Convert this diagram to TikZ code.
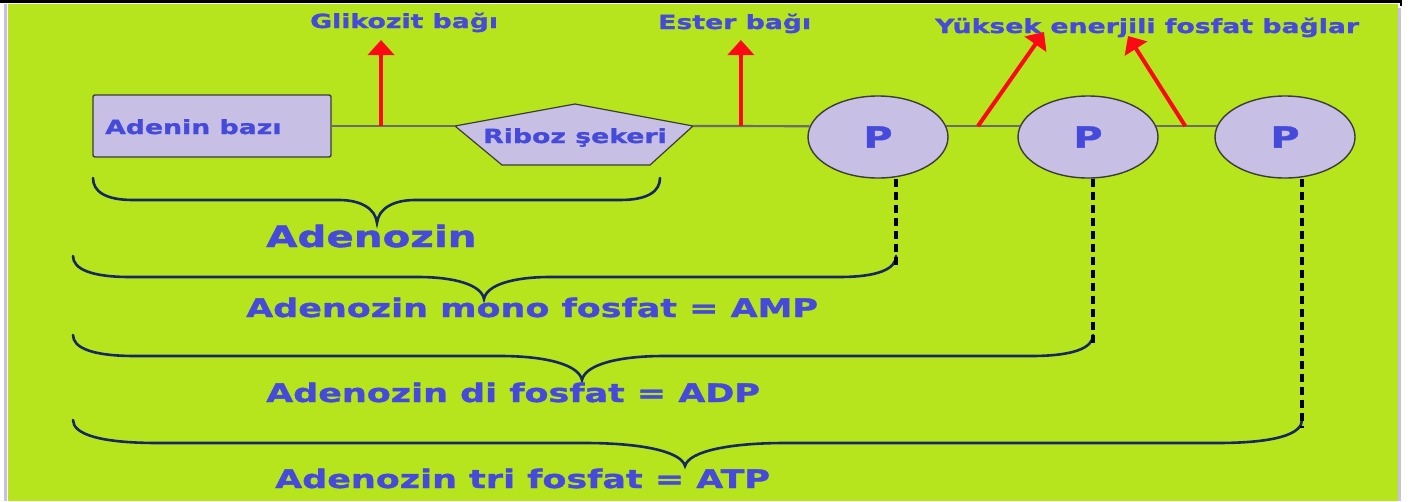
\documentclass[tikz,border=0pt]{standalone}
\usepackage{fontspec}
\newfontfamily\lbl{DejaVu Sans Bold}[FakeStretch=1.37, FakeBold=1.4]
\usetikzlibrary{shapes.geometric,arrows.meta,calc}

\definecolor{bg}{RGB}{182,229,30}
\definecolor{lav}{RGB}{199,192,228}
\definecolor{txt}{RGB}{70,74,218}
\definecolor{navy}{RGB}{22,40,98}
\definecolor{linkgray}{RGB}{108,108,108}
\definecolor{edge}{RGB}{60,60,60}
\definecolor{arrowred}{RGB}{250,10,20}

% curly brace: x0, x1, xtip, yend, yline, ytip, hook, half-width of tip
\newcommand\curlybrace[8]{%
  \draw[brc] (#1,#4) .. controls ({#1},{#4+0.6*(#5-#4)}) and ({#1+0.3*#7},#5) .. ({#1+#7},#5)
    -- ({#3-#8},#5) .. controls ({#3-0.45*#8},#5) and ({#3-0.04*#8},{#5+0.35*(#6-#5)}) .. (#3,#6)
    .. controls ({#3+0.04*#8},{#5+0.35*(#6-#5)}) and ({#3+0.45*#8},#5) .. ({#3+#8},#5)
    -- ({#2-#7},#5) .. controls ({#2-0.3*#7},#5) and ({#2},{#4+0.6*(#5-#4)}) .. (#2,#4);}

\tikzset{
  lab/.style={font=\lbl\fontsize{19.5}{22}\selectfont, text=txt, inner sep=0pt},
  biglab/.style={font=\lbl\fontsize{25.5}{30}\selectfont, text=txt, inner sep=0pt},
  hugelab/.style={font=\lbl\fontsize{29.5}{34}\selectfont, text=txt, inner sep=0pt},
  part/.style={fill=lav, draw=edge, line width=1.4pt},
  phos/.style={part, ellipse, minimum width=140pt, minimum height=82pt, inner sep=0pt,
    font=\lbl\fontsize{29}{34}\selectfont, text=txt},
  link/.style={draw=linkgray, line width=2.2pt},
  bond/.style={draw=arrowred, line width=4pt, -{Triangle[length=15pt,width=26pt]}},
  brc/.style={draw=navy, line width=2.6pt, line cap=round},
  drop/.style={draw=black, line width=3.4pt, dash pattern=on 8pt off 5pt}
}

\begin{document}
\begin{tikzpicture}[x=1pt,y=-1pt]
\useasboundingbox (0,0) rectangle (1413,501);

% page frame
\fill[bg] (8,4) rectangle (1398,501);
\draw[lav, line width=2.5pt] (5.5,4) -- (5.5,501);
\draw[lav, line width=3pt] (1399.5,8) -- (1399.5,501);
\draw[black, line width=2.5pt] (0,1.5) -- (1401,1.5) -- (1401,6);

% molecule parts
\node[part, rectangle, rounded corners=2pt, minimum width=238pt, minimum height=62pt, inner sep=0pt]
  (ab) at (212,126) {};
\node[lab, anchor=base west] (abt) at (105,134) {Adenin bazı};

\coordinate (rL) at (455,126);
\coordinate (rT) at (575,104);
\coordinate (rR) at (693,126);
\coordinate (rBR) at (650,165);
\coordinate (rBL) at (502,165);
\draw[fill=lav, draw=edge, line width=1.2pt] (rL) -- (rT) -- (rR) -- (rBR) -- (rBL) -- cycle;
\node[lab, anchor=base] (rib) at (575,143) {Riboz şekeri};

\node[phos] (p1) at (878,137) {P};
\node[phos] (p2) at (1088,137) {P};
\node[phos] (p3) at (1285,137) {P};

% backbone
\draw[link] (ab.east) -- (rL);
\draw[link] (rR) -- (p1.171);
\draw[link] (p1.9) -- (p2.171);
\draw[link] (p2.9) -- (p3.171);

% bond labels and arrows
\node[lab, anchor=base west] (glk) at (310,28) {Glikozit bağı};
\node[lab, anchor=base west] (est) at (658,29) {Ester bağı};
\node[lab, anchor=base west] (yuk) at (935,33) {Yüksek enerjili fosfat bağlar};

\coordinate (g0) at ($(ab.east)!0.4!(rL)$);
\coordinate (g1) at (g0 |- 0,40);
\coordinate (e0) at ($(rR)!0.41!(p1.171)$);
\coordinate (e1) at (e0 |- 0,40);
\coordinate (h0) at ($(p1.9)!0.43!(p2.171)$);
\coordinate (h1) at (1044,32);
\coordinate (k0) at ($(p2.9)!0.48!(p3.171)$);
\coordinate (k1) at (1128,36);
\draw[bond] (g0) -- (g1);
\draw[bond] (e0) -- (e1);
\draw[bond] (h0) -- (h1);
\draw[bond] (k0) -- (k1);

% braces
\coordinate (b2r) at (896,256);
\coordinate (b3r) at (1093,336);
\coordinate (b4r) at (1302,419);
\curlybrace{93}{660}{377}{178}{200}{223}{40}{38}
\curlybrace{73}{896}{484}{256}{277}{299}{57}{66}
\curlybrace{73}{1093}{582}{335}{356}{380}{62}{82}
\curlybrace{73}{1302}{685}{420}{443}{466}{85}{100}

\draw[drop] (p1.south -| b2r) -- ($(b2r)+(0,11)$);
\draw[drop] (p2.south -| b3r) -- ($(b3r)+(0,10)$);
\draw[drop] (p3.south -| b4r) -- ($(b4r)+(0,9)$);

% group names
\node[hugelab, anchor=base west] (ado) at (266,247) {Adenozin};
\node[biglab, anchor=base west] (amp) at (246,317) {Adenozin mono fosfat = AMP};
\node[biglab, anchor=base west] (adp) at (266,402) {Adenozin di fosfat = ADP};
\node[biglab, anchor=base west] (atp) at (275,488) {Adenozin tri fosfat = ATP};
\end{tikzpicture}
\end{document}
